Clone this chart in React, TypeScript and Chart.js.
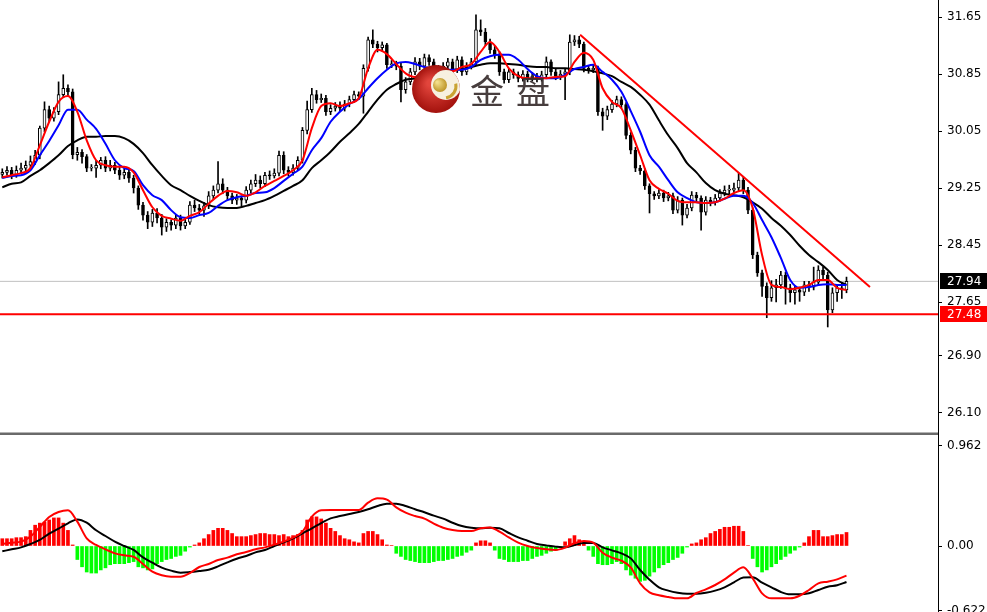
import React, { useEffect, useRef } from "react";
import { Chart, registerables } from "chart.js";
Chart.register(...registerables);

// ---- price candles (one per bar index) ----
const opens = [
  29.44,29.47,29.50,29.43,29.50,29.53,29.57,29.62,29.71,30.09,
  30.35,30.23,30.32,30.56,30.65,30.60,29.72,29.75,29.69,29.53,
  29.53,29.57,29.64,29.53,29.57,29.50,29.43,29.47,29.39,29.25,
  29.01,28.87,28.77,28.90,28.83,28.70,28.77,28.73,28.83,28.72,
  28.77,29.01,28.97,28.94,29.00,29.14,29.22,29.31,29.22,29.14,
  29.08,29.11,29.08,29.22,29.31,29.36,29.31,29.43,29.42,29.46,
  29.71,29.50,29.47,29.53,29.64,30.06,30.35,30.56,30.49,30.51,
  30.32,30.37,30.40,30.37,30.43,30.49,30.56,30.54,30.93,31.33,
  31.27,31.22,31.26,30.98,30.99,30.96,30.63,30.74,30.88,31.02,
  30.96,31.08,31.02,30.93,30.88,30.96,31.02,30.91,31.05,30.88,
  30.96,31.02,31.47,31.44,31.30,31.19,31.12,30.88,30.77,30.88,
  30.84,30.79,30.85,30.79,30.82,30.79,30.84,31.02,30.88,30.82,
  30.85,30.88,31.30,31.33,31.27,30.93,30.91,30.93,30.32,30.26,
  30.35,30.43,30.49,30.42,29.99,29.78,29.53,29.49,29.28,29.17,
  29.14,29.18,29.11,29.14,28.94,29.08,28.87,28.97,29.15,29.11,
  28.91,29.08,29.05,29.11,29.18,29.22,29.22,29.25,29.36,29.22,
  28.94,28.31,28.06,27.87,27.71,27.85,27.89,28.03,27.85,27.78,
  27.82,27.79,27.89,27.86,27.93,28.10,28.03,27.54,27.78,27.85,
  27.82
];
const highs = [
  29.52,29.55,29.54,29.56,29.60,29.63,29.70,29.78,30.12,30.46,
  30.40,30.38,30.74,30.84,30.70,30.64,29.82,29.79,29.72,29.58,
  29.64,29.68,29.69,29.64,29.61,29.55,29.52,29.51,29.43,29.28,
  29.05,28.92,28.95,28.96,28.88,28.82,28.80,28.88,28.87,28.83,
  29.06,29.08,29.02,29.05,29.20,29.28,29.62,29.38,29.26,29.18,
  29.16,29.14,29.27,29.36,29.44,29.42,29.47,29.49,29.52,29.77,
  29.76,29.55,29.58,29.69,30.10,30.47,30.65,30.62,30.57,30.55,
  30.42,30.45,30.46,30.48,30.54,30.61,30.60,30.98,31.37,31.47,
  31.31,31.30,31.28,31.04,31.03,31.00,30.80,30.93,31.08,31.07,
  31.13,31.12,31.06,30.97,31.01,31.07,31.06,31.10,31.09,31.01,
  31.07,31.68,31.61,31.49,31.34,31.24,31.16,30.92,30.93,30.92,
  30.88,30.90,30.89,30.87,30.86,30.89,31.09,31.05,30.92,30.90,
  30.93,31.40,31.39,31.38,31.30,30.97,30.98,30.96,30.37,30.40,
  30.48,30.54,30.53,30.45,30.03,29.82,29.57,29.52,29.31,29.20,
  29.23,29.22,29.19,29.18,29.13,29.11,29.02,29.20,29.19,29.14,
  29.13,29.12,29.16,29.23,29.28,29.29,29.32,29.46,29.40,29.26,
  28.97,28.35,28.10,27.92,27.95,27.97,28.08,28.07,27.90,27.88,
  27.86,27.94,27.94,28.14,28.16,28.14,28.07,27.85,27.90,27.92,
  28.00
];
const lows = [
  29.39,29.43,29.38,29.40,29.46,29.49,29.52,29.58,29.66,30.04,
  30.18,30.19,30.28,30.52,30.54,29.66,29.64,29.60,29.48,29.49,
  29.40,29.52,29.48,29.49,29.45,29.37,29.38,29.33,29.18,28.95,
  28.80,28.68,28.71,28.76,28.59,28.64,28.66,28.68,28.66,28.68,
  28.74,28.92,28.88,28.85,28.96,29.10,29.18,29.17,29.08,29.03,
  29.02,29.00,29.04,29.18,29.27,29.25,29.27,29.37,29.39,29.42,
  29.45,29.42,29.43,29.50,29.60,30.01,30.31,30.44,30.45,30.27,
  30.28,30.33,30.32,30.33,30.39,30.45,30.49,30.30,30.89,31.22,
  31.16,31.17,30.93,30.94,30.91,30.46,30.58,30.70,30.84,30.91,
  30.92,30.97,30.88,30.83,30.84,30.92,30.86,30.87,30.83,30.84,
  30.92,30.97,31.39,31.25,31.14,31.07,30.83,30.72,30.73,30.79,
  30.74,30.75,30.74,30.75,30.74,30.75,30.80,30.83,30.77,30.77,
  30.49,30.84,31.25,31.22,30.88,30.86,30.87,30.27,30.06,30.21,
  30.31,30.39,30.37,29.94,29.73,29.48,29.44,29.23,28.90,29.09,
  29.10,29.06,29.07,28.89,28.90,28.73,28.83,28.93,29.06,28.66,
  28.87,29.00,29.01,29.07,29.14,29.17,29.18,29.21,29.17,28.89,
  28.26,28.01,27.73,27.43,27.66,27.65,27.84,27.62,27.65,27.62,
  27.66,27.74,27.80,27.82,27.88,27.97,27.30,27.50,27.66,27.70,
  27.78
];
const closes = [
  29.47,29.50,29.43,29.50,29.53,29.57,29.62,29.71,30.09,30.35,
  30.23,30.32,30.56,30.65,30.60,29.72,29.75,29.69,29.53,29.53,
  29.57,29.64,29.53,29.57,29.50,29.43,29.47,29.39,29.25,29.01,
  28.87,28.77,28.90,28.83,28.70,28.77,28.73,28.83,28.72,28.77,
  29.01,28.97,28.94,29.00,29.14,29.22,29.31,29.22,29.14,29.08,
  29.11,29.08,29.22,29.31,29.36,29.31,29.43,29.42,29.46,29.71,
  29.50,29.47,29.53,29.64,30.06,30.35,30.56,30.49,30.51,30.32,
  30.37,30.40,30.37,30.43,30.49,30.56,30.54,30.93,31.33,31.27,
  31.22,31.26,30.98,30.99,30.96,30.63,30.74,30.88,31.02,30.96,
  31.08,31.02,30.93,30.88,30.96,31.02,30.91,31.05,30.88,30.96,
  31.02,31.47,31.44,31.30,31.19,31.12,30.88,30.77,30.88,30.84,
  30.79,30.85,30.79,30.82,30.79,30.84,31.02,30.88,30.82,30.85,
  30.88,31.30,31.33,31.27,30.93,30.91,30.93,30.32,30.26,30.35,
  30.43,30.49,30.42,29.99,29.78,29.53,29.49,29.28,29.17,29.14,
  29.18,29.11,29.14,28.94,29.08,28.87,28.97,29.15,29.11,28.91,
  29.08,29.05,29.11,29.18,29.22,29.22,29.25,29.36,29.22,28.94,
  28.31,28.06,27.87,27.71,27.85,27.89,28.03,27.85,27.78,27.82,
  27.79,27.89,27.86,27.93,28.10,28.03,27.54,27.78,27.85,27.82,
  27.94
];

// ---- moving averages, read every 2nd bar ----
const MA_STEP = 2;
const maFast = [
  29.40,29.43,29.46,29.53,29.85,30.18,30.46,30.54,30.32,29.92,
  29.64,29.57,29.55,29.55,29.47,29.22,28.98,28.86,28.82,28.79,
  28.86,28.91,29.03,29.14,29.21,29.19,29.14,29.19,29.28,29.35,
  29.42,29.50,29.64,30.09,30.40,30.44,30.40,30.44,30.51,30.93,
  31.19,31.13,30.99,30.86,30.81,30.88,30.91,30.89,30.89,30.95,
  30.99,31.16,31.30,31.16,30.93,30.82,30.79,30.79,30.79,30.81,
  30.82,31.02,31.15,31.05,30.65,30.46,30.37,30.06,29.71,29.36,
  29.24,29.17,29.07,29.05,29.05,29.04,29.05,29.10,29.18,29.22,
  28.97,28.31,27.89,27.86,27.83,27.85,27.89,27.96,27.96,27.85,
  27.82
];
const maMid = [
  29.39,29.42,29.43,29.50,29.71,29.91,30.13,30.35,30.35,30.21,
  30.08,29.87,29.64,29.53,29.49,29.29,29.15,29.08,28.94,28.84,
  28.83,28.87,28.90,29.00,29.08,29.12,29.14,29.18,29.19,29.25,
  29.35,29.45,29.55,29.78,29.95,30.18,30.32,30.43,30.50,30.65,
  30.79,30.91,31.00,31.02,30.99,30.95,30.93,30.91,30.91,30.91,
  30.95,31.05,31.10,31.12,31.12,31.05,30.92,30.82,30.79,30.79,
  30.84,30.92,30.95,30.98,30.88,30.77,30.60,30.33,30.04,29.71,
  29.55,29.36,29.19,29.11,29.05,29.04,29.05,29.10,29.14,29.14,
  29.04,28.80,28.56,28.27,27.96,27.85,27.86,27.89,27.90,27.89,
  27.89
];
const maSlow = [
  29.26,29.31,29.33,29.42,29.50,29.60,29.71,29.84,29.92,29.97,
  29.97,29.98,29.98,29.95,29.87,29.74,29.57,29.42,29.29,29.22,
  29.14,29.07,29.01,28.98,28.97,28.97,29.00,29.04,29.08,29.14,
  29.21,29.28,29.36,29.53,29.64,29.76,29.90,30.02,30.15,30.32,
  30.49,30.63,30.71,30.77,30.79,30.85,30.86,30.89,30.91,30.92,
  30.95,30.98,31.00,31.00,30.99,30.98,30.96,30.95,30.95,30.93,
  30.93,30.92,30.91,30.89,30.86,30.82,30.74,30.67,30.56,30.42,
  30.20,29.99,29.81,29.60,29.47,29.32,29.22,29.17,29.15,29.12,
  29.05,28.96,28.83,28.72,28.59,28.44,28.31,28.21,28.10,27.96,
  27.89
];

// ---- MACD sub-window ----
const macdHist = [
  0.07,0.07,0.07,0.08,0.08,0.09,0.15,0.20,0.22,0.23,
  0.25,0.27,0.27,0.22,0.15,0.01,-0.13,-0.20,-0.25,-0.26,
  -0.26,-0.23,-0.21,-0.18,-0.17,-0.17,-0.17,-0.16,-0.15,-0.20,
  -0.21,-0.23,-0.22,-0.17,-0.15,-0.13,-0.12,-0.10,-0.09,-0.05,
  -0.01,0.01,0.03,0.07,0.11,0.15,0.17,0.17,0.15,0.12,
  0.09,0.09,0.09,0.10,0.11,0.12,0.12,0.11,0.11,0.10,
  0.11,0.09,0.10,0.11,0.15,0.25,0.28,0.28,0.26,0.22,
  0.17,0.14,0.10,0.07,0.06,0.04,0.03,0.12,0.14,0.14,
  0.11,0.06,0.01,0.005,-0.07,-0.10,-0.13,-0.14,-0.15,-0.16,
  -0.16,-0.16,-0.15,-0.14,-0.14,-0.13,-0.12,-0.10,-0.09,-0.06,
  -0.04,0.03,0.05,0.05,0.03,-0.04,-0.12,-0.13,-0.15,-0.15,
  -0.15,-0.14,-0.14,-0.12,-0.10,-0.09,-0.07,-0.05,-0.04,-0.01,
  0.04,0.07,0.10,0.06,0.04,-0.04,-0.10,-0.17,-0.18,-0.18,
  -0.17,-0.15,-0.17,-0.23,-0.28,-0.31,-0.34,-0.33,-0.29,-0.25,
  -0.21,-0.18,-0.16,-0.13,-0.11,-0.07,-0.01,0.02,0.03,0.06,
  0.08,0.12,0.14,0.16,0.18,0.18,0.19,0.19,0.14,0.005,
  -0.12,-0.20,-0.25,-0.23,-0.20,-0.17,-0.13,-0.10,-0.07,-0.04,
  -0.01,0.03,0.09,0.15,0.15,0.09,0.09,0.10,0.11,0.11,
  0.13
];
const macdMain = [
  0.019,0.032,0.042,0.090,0.183,0.279,0.327,0.343,0.234,0.074,
  0.010,-0.032,-0.071,-0.090,-0.103,-0.173,-0.247,-0.282,-0.295,-0.295,
  -0.260,-0.202,-0.173,-0.135,-0.112,-0.080,-0.058,-0.032,-0.013,0.013,
  0.042,0.080,0.138,0.282,0.343,0.346,0.346,0.346,0.346,0.417,
  0.458,0.446,0.372,0.321,0.288,0.263,0.215,0.176,0.154,0.144,
  0.144,0.170,0.179,0.138,0.083,0.032,0.000,-0.019,-0.032,-0.038,
  -0.016,0.026,0.048,0.032,-0.064,-0.112,-0.141,-0.205,-0.359,-0.446,
  -0.474,-0.490,-0.503,-0.503,-0.452,-0.417,-0.375,-0.321,-0.256,-0.205,
  -0.311,-0.455,-0.503,-0.503,-0.503,-0.478,-0.423,-0.359,-0.343,-0.321,
  -0.285
];
const macdSignal = [
  -0.051,-0.032,-0.013,0.019,0.058,0.119,0.167,0.218,0.256,0.224,
  0.151,0.096,0.042,0.000,-0.038,-0.109,-0.160,-0.208,-0.237,-0.256,
  -0.250,-0.240,-0.228,-0.196,-0.157,-0.122,-0.096,-0.061,-0.038,0.000,
  0.035,0.074,0.122,0.170,0.221,0.266,0.288,0.308,0.327,0.353,
  0.385,0.407,0.407,0.385,0.353,0.324,0.292,0.263,0.224,0.192,
  0.176,0.170,0.176,0.170,0.125,0.083,0.051,0.019,0.006,-0.006,
  -0.013,0.010,0.029,0.029,-0.013,-0.042,-0.071,-0.119,-0.231,-0.324,
  -0.397,-0.429,-0.449,-0.458,-0.458,-0.449,-0.429,-0.397,-0.349,-0.304,
  -0.301,-0.353,-0.397,-0.442,-0.465,-0.465,-0.455,-0.423,-0.391,-0.378,
  -0.346
];

// ---- axes / levels ----
const priceTicks = [31.65, 30.85, 30.05, 29.25, 28.45, 27.65, 26.90, 26.10];
const macdTicks = [0.962, 0, -0.622];
const lastPrice = 27.94;
const supportLevel = 27.48;
const trendBars = [123.2, 185.0];
const trendPrices = [31.40, 27.86];

const X_MIN = -0.49;
const X_MAX = 199.51;
const PRICE_MIN = 25.826;
const PRICE_MAX = 31.889;
const MACD_MIN = -0.6346;
const MACD_MAX = 1.0673;
const AXIS_W = 49;
const FONT = '"DejaVu Sans", Verdana, sans-serif';

function rightAxis(min: number, max: number, ticks: number[], fmt: (v: number) => string) {
  return {
    type: "linear",
    position: "right",
    min,
    max,
    afterBuildTicks: (s: any) => {
      s.ticks = ticks.map((v) => ({ value: v }));
    },
    afterFit: (s: any) => {
      s.width = AXIS_W;
      s.paddingTop = 0;
      s.paddingBottom = 0;
    },
    grid: { drawOnChartArea: false, drawTicks: true, tickLength: 4, color: "#000", lineWidth: 1 },
    border: { display: true, color: "#000", width: 1 },
    ticks: {
      autoSkip: false,
      padding: 5,
      color: "#000",
      font: { family: FONT, size: 12 },
      callback: (v: any) => fmt(Number(v)),
    },
  };
}

const boxesPlugin = {
  id: "priceBoxes",
  afterDraw(chart: any) {
    const ctx = chart.ctx;
    const y = chart.scales.y;
    const left = chart.chartArea.right + 2;
    const draw = (v: number, bg: string) => {
      const py = Math.round(y.getPixelForValue(v));
      ctx.save();
      ctx.fillStyle = bg;
      ctx.fillRect(left, py - 8, chart.width - left, 16);
      ctx.fillStyle = "#fff";
      ctx.font = "12px " + FONT;
      ctx.textBaseline = "middle";
      ctx.textAlign = "left";
      ctx.fillText(v.toFixed(2), chart.chartArea.right + 9, py + 0.5);
      ctx.restore();
    };
    draw(lastPrice, "#000000");
    draw(supportLevel, "#ff0000");
  },
};

const logoPlugin = {
  id: "logo",
  afterDatasetsDraw(chart: any) {
    const ctx = chart.ctx;
    ctx.save();
    const cx = 436, cy = 89, r = 24;
    const g = ctx.createRadialGradient(cx - 6, cy - 6, 3, cx, cy, r);
    g.addColorStop(0, "#e2453c");
    g.addColorStop(1, "#a3120d");
    ctx.fillStyle = g;
    ctx.beginPath();
    ctx.arc(cx, cy, r, 0, Math.PI * 2);
    ctx.fill();
    ctx.save();
    ctx.beginPath();
    ctx.arc(cx, cy, r, 0, Math.PI * 2);
    ctx.clip();
    ctx.fillStyle = "#f7f0e0";
    ctx.beginPath();
    ctx.arc(cx + 10, cy - 4, 15, 0, Math.PI * 2);
    ctx.fill();
    ctx.strokeStyle = "#c9a232";
    ctx.lineWidth = 3;
    ctx.beginPath();
    ctx.arc(cx + 8, cy - 3, 12, -0.2, 1.4);
    ctx.stroke();
    ctx.restore();
    const gg = ctx.createRadialGradient(cx + 1, cy - 7, 1, cx + 4, cy - 4, 8);
    gg.addColorStop(0, "#f3de8a");
    gg.addColorStop(1, "#b88d1c");
    ctx.fillStyle = gg;
    ctx.beginPath();
    ctx.arc(cx + 4, cy - 4, 7, 0, Math.PI * 2);
    ctx.fill();
    ctx.fillStyle = "rgba(55,45,45,0.92)";
    ctx.font = '34px "Noto Sans CJK SC"';
    ctx.textBaseline = "middle";
    ctx.textAlign = "left";
    ctx.fillText("金", 470, 91);
    ctx.fillText("盘", 516, 91);
    ctx.restore();
  },
};

export default function App() {
  const mainRef = useRef<HTMLCanvasElement>(null);
  const subRef = useRef<HTMLCanvasElement>(null);

  useEffect(() => {
    const bodies = closes.map((c, i) => ({ x: i, y: [opens[i], c] }));
    const bodyColors = closes.map((c, i) => (c >= opens[i] ? "#ffffff" : "#000000"));
    const wicks = highs.map((h, i) => ({ x: i, y: [lows[i], h] }));
    const ma = (arr: number[]) => arr.map((v, k) => ({ x: k * MA_STEP, y: v }));
    const lineDs = (data: any[], color: string, width: number, order: number) => ({
      type: "line",
      data,
      borderColor: color,
      borderWidth: width,
      pointRadius: 0,
      cubicInterpolationMode: "monotone",
      order,
    });

    const main = new Chart(mainRef.current as HTMLCanvasElement, {
      type: "bar",
      data: {
        datasets: [
          lineDs([{ x: X_MIN, y: supportLevel }, { x: X_MAX, y: supportLevel }], "#ff0000", 2, 1),
          lineDs(trendBars.map((b, k) => ({ x: b, y: trendPrices[k] })), "#ff0000", 2, 2),
          lineDs(ma(maFast), "#ff0000", 2, 3),
          lineDs(ma(maMid), "#0000ff", 2, 4),
          lineDs(ma(maSlow), "#000000", 2, 5),
          {
            type: "bar",
            data: bodies,
            backgroundColor: bodyColors,
            borderColor: "#000000",
            borderWidth: 1,
            borderSkipped: false,
            barThickness: 3,
            minBarLength: 1,
            grouped: false,
            order: 8,
          },
          {
            type: "bar",
            data: wicks,
            backgroundColor: "#000000",
            borderWidth: 0,
            barThickness: 1,
            grouped: false,
            order: 9,
          },
          lineDs([{ x: X_MIN, y: lastPrice }, { x: X_MAX, y: lastPrice }], "#c0c0c0", 1, 10),
        ] as any,
      },
      options: {
        animation: false,
        responsive: false,
        maintainAspectRatio: false,
        events: [],
        layout: { padding: 0 },
        plugins: { legend: { display: false }, tooltip: { enabled: false } },
        scales: {
          x: { type: "linear", min: X_MIN, max: X_MAX, display: false, offset: false },
          y: rightAxis(PRICE_MIN, PRICE_MAX, priceTicks, (v) => v.toFixed(2)) as any,
        },
      } as any,
      plugins: [logoPlugin, boxesPlugin],
    });

    const sub = new Chart(subRef.current as HTMLCanvasElement, {
      type: "bar",
      data: {
        datasets: [
          lineDs(ma(macdMain), "#ff0000", 2, 1),
          lineDs(ma(macdSignal), "#000000", 2, 2),
          {
            type: "bar",
            data: macdHist.map((v, i) => ({ x: i, y: v })),
            backgroundColor: macdHist.map((v) => (v >= 0 ? "#ff0000" : "#00ff00")),
            borderWidth: 0,
            barThickness: 3,
            grouped: false,
            order: 3,
          },
        ] as any,
      },
      options: {
        animation: false,
        responsive: false,
        maintainAspectRatio: false,
        events: [],
        layout: { padding: 0 },
        plugins: { legend: { display: false }, tooltip: { enabled: false } },
        scales: {
          x: { type: "linear", min: X_MIN, max: X_MAX, display: false, offset: false },
          y: rightAxis(MACD_MIN, MACD_MAX, macdTicks, (v) => (v === 0 ? "0.00" : v.toFixed(3))) as any,
        },
      } as any,
    });

    return () => {
      main.destroy();
      sub.destroy();
    };
  }, []);

  return (
    <div style={{ position: "fixed", left: 0, top: 0, width: 987, height: 612, background: "#fff", overflow: "hidden" }}>
      <canvas ref={mainRef} width={987} height={432} style={{ position: "absolute", left: 0, top: 0, width: 987, height: 432 }} />
      <div style={{ position: "absolute", left: 0, top: 432, width: 938, height: 1, background: "#b4b4b4" }} />
      <div style={{ position: "absolute", left: 0, top: 433, width: 938, height: 2, background: "#6a6a6a" }} />
      <div style={{ position: "absolute", left: 938, top: 432, width: 1, height: 3, background: "#000" }} />
      <canvas ref={subRef} width={987} height={177} style={{ position: "absolute", left: 0, top: 435, width: 987, height: 177 }} />
    </div>
  );
}
